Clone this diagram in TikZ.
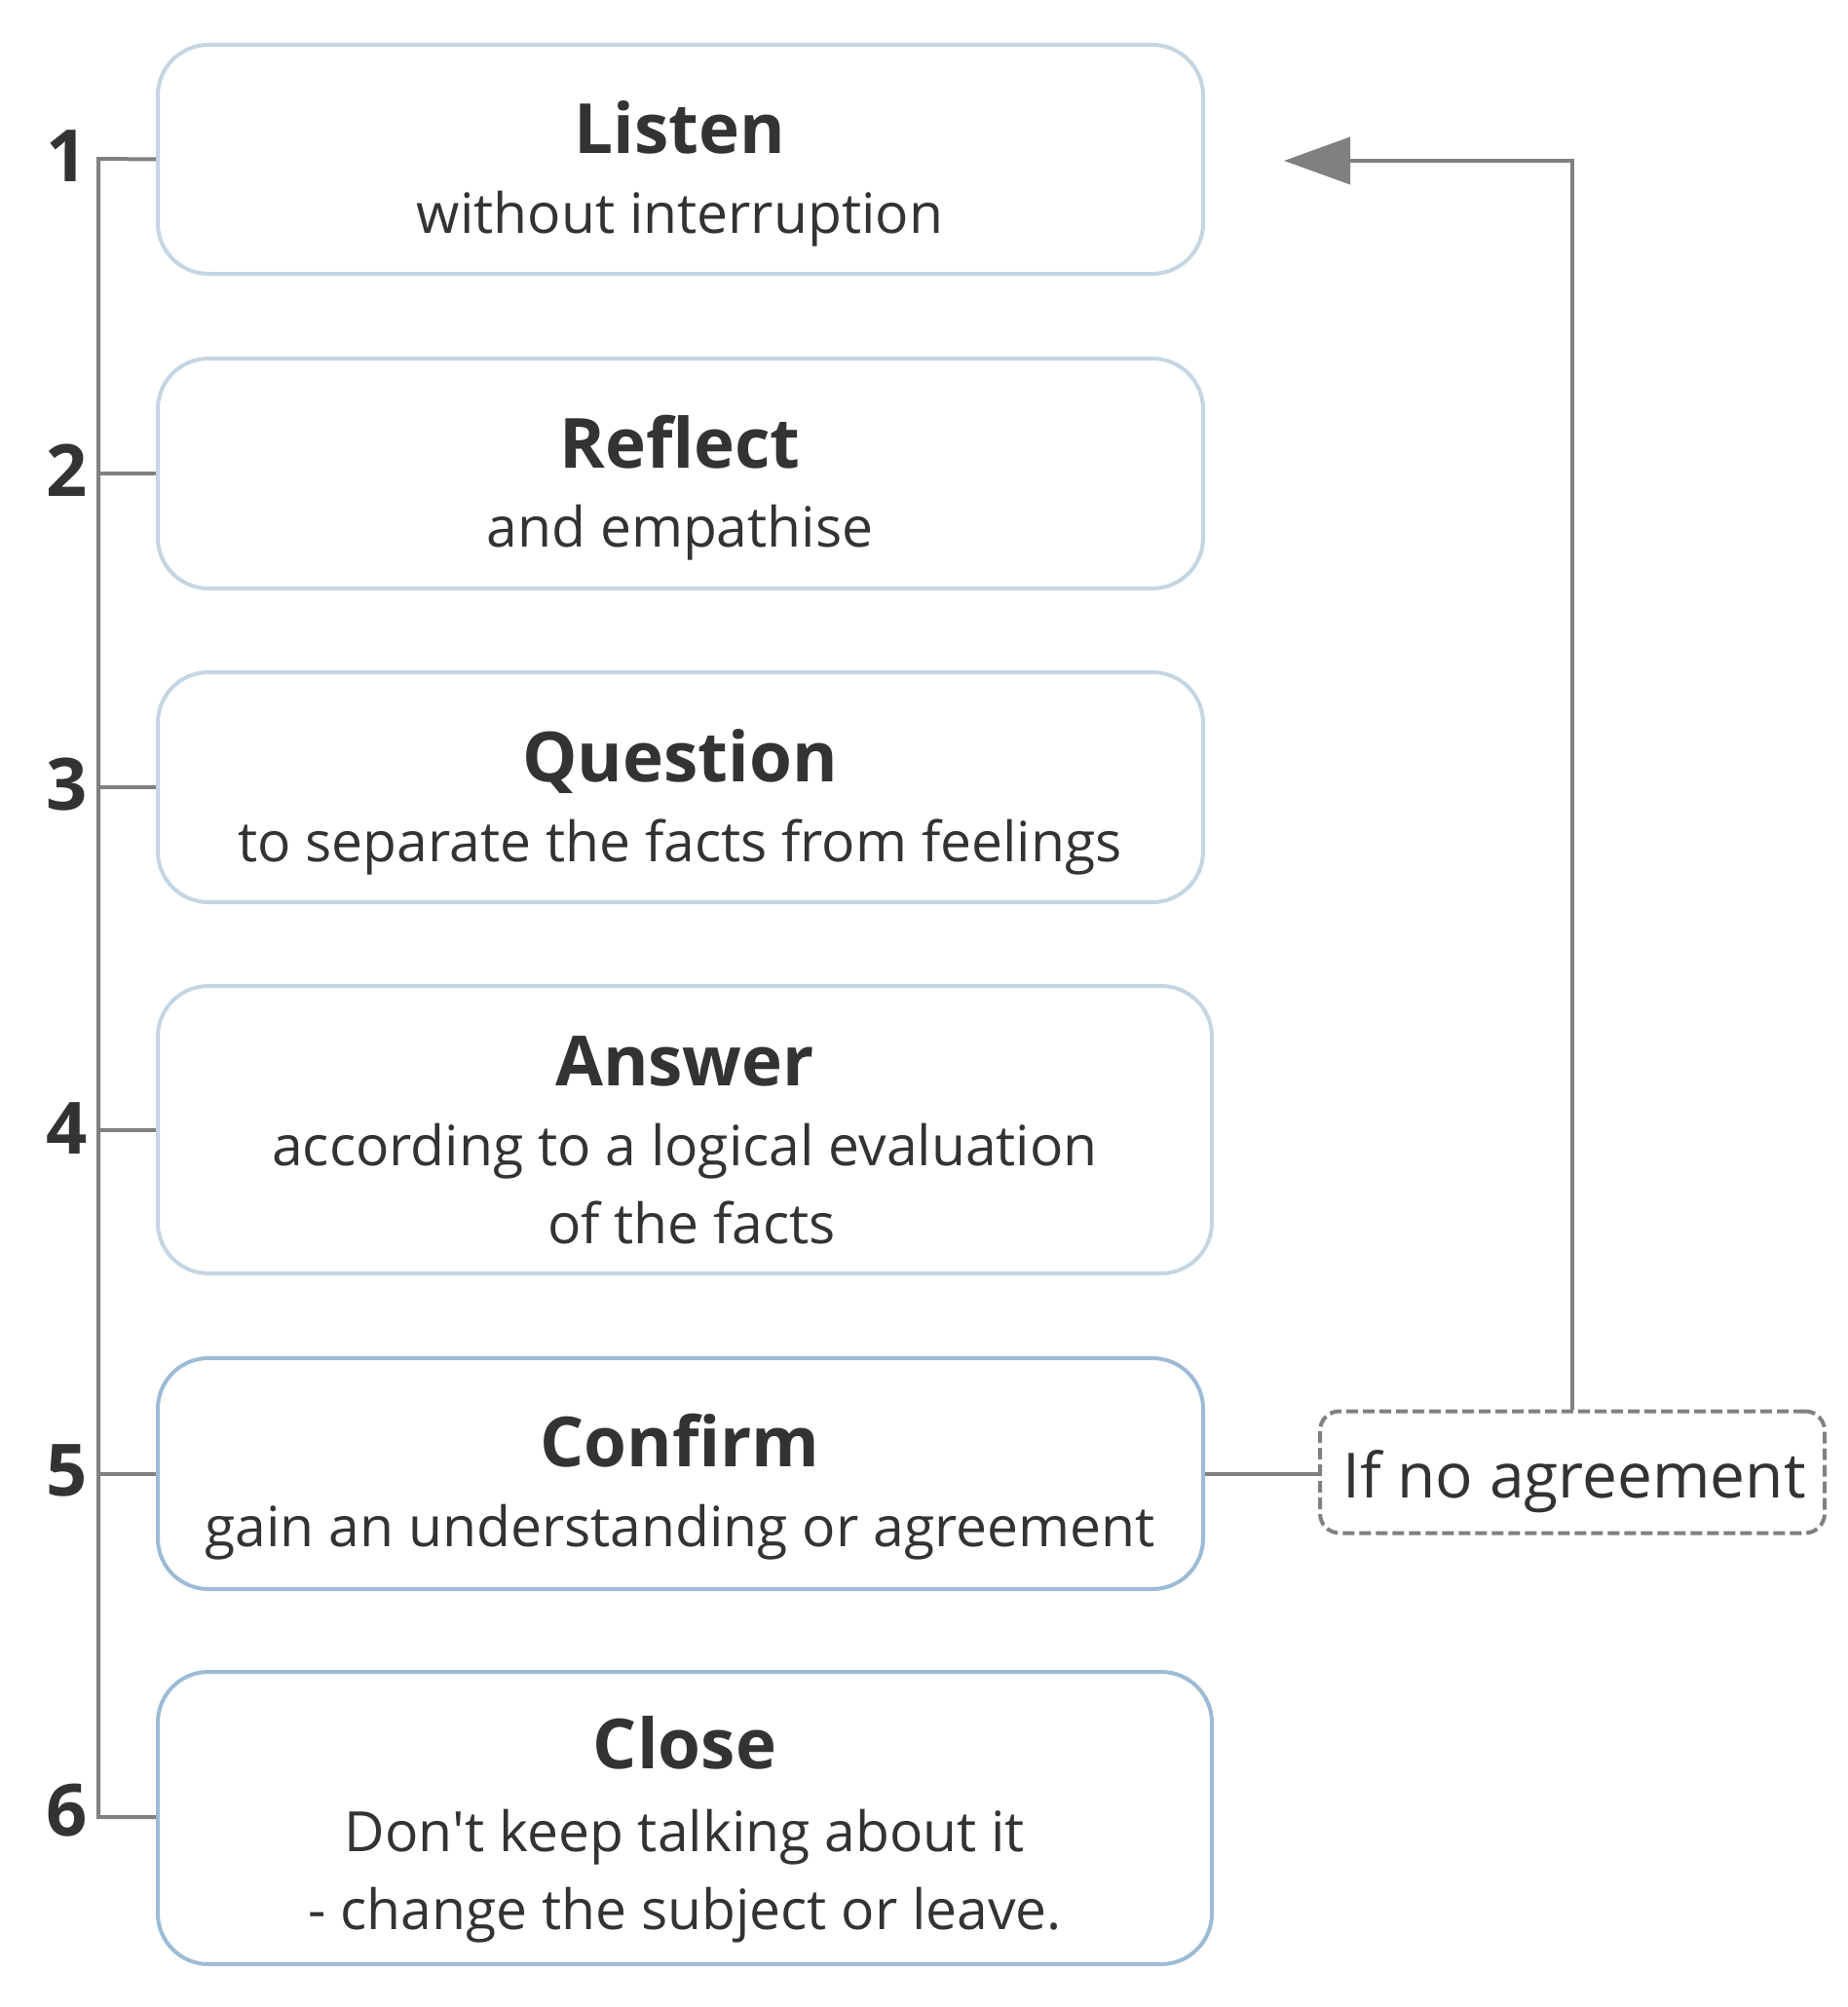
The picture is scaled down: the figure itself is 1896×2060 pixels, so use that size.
\documentclass[tikz,border=0pt]{standalone}
\usepackage{fontspec}
\setmainfont{Open Sans}
\usetikzlibrary{arrows.meta}
\definecolor{txt}{HTML}{333333}
\definecolor{lightb}{HTML}{C5D5E2}
\definecolor{darkb}{HTML}{9DBBD6}
\definecolor{conn}{HTML}{808080}
\tikzset{
  stepbox/.style={draw=lightb, line width=4pt, rounded corners=52pt, fill=white, inner sep=0pt},
  stepboxdark/.style={stepbox, draw=darkb},
  ttl/.style={anchor=base, text=txt, font=\bfseries\fontsize{71}{80}\selectfont, inner sep=0pt},
  sub/.style={anchor=base, text=txt, font=\fontsize{57}{66}\selectfont, inner sep=0pt},
  num/.style={anchor=base east, text=txt, font=\bfseries\fontsize{74}{80}\selectfont, inner sep=0pt},
  link/.style={draw=conn, line width=4pt},
  note/.style={draw=conn, line width=4pt, dash pattern=on 12pt off 5pt, rounded corners=20pt, inner sep=0pt}
}
\begin{document}
\begin{tikzpicture}[x=1pt,y=-1pt]
\useasboundingbox (0,0) rectangle (1896,2060);
% boxes
\node[stepbox, minimum width=1073pt, minimum height=235pt] (b1) at (698.5,163.5) {};
\node[stepbox, minimum width=1073pt, minimum height=236pt] (b2) at (698.5,486) {};
\node[stepbox, minimum width=1073pt, minimum height=236pt] (b3) at (698.5,808) {};
\node[stepbox, minimum width=1082pt, minimum height=295pt] (b4) at (703,1159.5) {};
\node[stepboxdark, minimum width=1073pt, minimum height=237pt] (b5) at (698.5,1512.5) {};
\node[stepboxdark, minimum width=1082pt, minimum height=300pt] (b6) at (703,1866) {};
% texts
\node[ttl] (t1) at (698,158) {Listen};
\node[sub] (s1) at (698,240) {without interruption};
\node[ttl] (t2) at (698,480) {Reflect};
\node[sub] (s2) at (698,561) {and empathise};
\node[ttl] (t3) at (698,802) {Question};
\node[sub] (s3) at (698,884) {to separate the facts from feelings};
\node[ttl] (t4) at (703,1114) {Answer};
\node[sub] (s4a) at (703,1196) {according to a logical evaluation};
\node[sub] (s4b) at (710,1276) {of the facts};
\node[ttl] (t5) at (698,1505) {Confirm};
\node[sub] (s5) at (698,1587) {gain an understanding or agreement};
\node[ttl] (t6) at (703,1815) {Close};
\node[sub] (s6a) at (703,1900) {Don\textquotesingle t keep talking about it};
\node[sub] (s6b) at (703,1980) {- change the subject or leave.};
% numbers
\node[num] (n1) at (90,187) {1};
\node[num] (n2) at (90,509) {2};
\node[num] (n3) at (90,831) {3};
\node[num] (n4) at (90,1184) {4};
\node[num] (n5) at (90,1535) {5};
\node[num] (n6) at (90,1884) {6};
% spine
\coordinate (top) at (101,163);
\coordinate (bot) at (101,1865);
\draw[link] (b1.west) -- (top) -- (bot) -- (b6.west |- bot);
\draw[link] (b2.west) -- (b2.west -| top);
\draw[link] (b3.west) -- (b3.west -| top);
\draw[link] (b4.west) -- (b4.west -| top);
\draw[link] (b5.west) -- (b5.west -| top);
% note and loop
\node[note, minimum width=518pt, minimum height=125pt] (nd) at (1614,1511) {};
\node[anchor=base, text=txt, font=\fontsize{64}{70}\selectfont, inner sep=0pt] (ntext) at (1616,1537) {If no agreement};
\draw[link] (b5.east) -- (b5.east -| nd.west);
\coordinate (tip) at (1318,165);
\draw[link, -{Triangle[length=68pt,width=48pt]}] (nd.north) -- (nd.north |- tip) -- (tip);
\end{tikzpicture}
\end{document}
